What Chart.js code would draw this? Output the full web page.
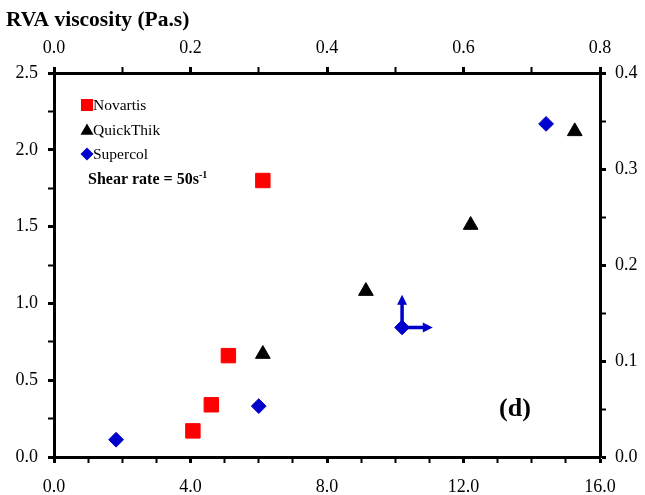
<!DOCTYPE html>
<html>
<head>
<meta charset="utf-8">
<script src="https://cdn.jsdelivr.net/npm/chart.js@4.4.0/dist/chart.umd.min.js"></script>
<style>
    html, body { margin: 0; padding: 0; background: #fff; }
</style>
</head>
<body>
<canvas id="viscChart" width="645" height="495"></canvas>
<script>
// bottom axis (0-16) / left axis (0-2.5)
const novartisX = [4.07, 4.61, 5.11, 6.12];
const novartisY = [0.17, 0.34, 0.66, 1.80];
const quickThikX = [6.12, 9.14, 12.21, 15.26];
const quickThikY = [0.67, 1.08, 1.51, 2.12];

// Supercol is read on the top (RVA viscosity) and right axes
const supercolX = [0.091, 0.300, 0.721];
const supercolY = [0.018, 0.053, 0.347];

// marker with arrows showing which axes Supercol uses
const arrowX = [0.51];
const arrowY = [0.135];
const arrowUpTo = 0.169;
const arrowRightTo = 0.555;

const legendLabels = ["Novartis", "QuickThik", "Supercol"];
const topTitle = "RVA viscosity (Pa.s)";
const panelLabel = "(d)";

const SERIF = "'Liberation Serif', 'Times New Roman', serif";
const BLUE = "#0000cc";

function toPoints(xs, ys) {
    return xs.map((x, i) => ({ x: x, y: ys[i] }));
}

function shape(ctx, style, x, y, size, color) {
    ctx.save();
    ctx.fillStyle = color;
    ctx.beginPath();
    if (style === "rect") {
        ctx.rect(x - size / 2, y - size / 2, size, size);
    } else if (style === "triangle") {
        const r = size / Math.sqrt(3);
        ctx.moveTo(x, y - r);
        ctx.lineTo(x + size / 2, y + r / 2);
        ctx.lineTo(x - size / 2, y + r / 2);
        ctx.closePath();
    } else {
        ctx.moveTo(x, y - size / 2);
        ctx.lineTo(x + size / 2, y);
        ctx.lineTo(x, y + size / 2);
        ctx.lineTo(x - size / 2, y);
        ctx.closePath();
    }
    ctx.fill();
    ctx.restore();
}

const arrowPlugin = {
    id: "arrows",
    beforeDatasetsDraw(chart) {
        const ctx = chart.ctx;
        const sx = chart.scales.x2, sy = chart.scales.y2;
        const px = sx.getPixelForValue(arrowX[0]);
        const py = sy.getPixelForValue(arrowY[0]);
        const upY = sy.getPixelForValue(arrowUpTo);
        const rightX = sx.getPixelForValue(arrowRightTo);
        ctx.save();
        ctx.strokeStyle = BLUE;
        ctx.fillStyle = BLUE;
        ctx.lineWidth = 3.5;
        ctx.beginPath();
        ctx.moveTo(px, py);
        ctx.lineTo(px, upY + 8);
        ctx.moveTo(px, py);
        ctx.lineTo(rightX - 8, py);
        ctx.stroke();
        ctx.beginPath();
        ctx.moveTo(px, upY);
        ctx.lineTo(px + 5, upY + 10);
        ctx.lineTo(px - 5, upY + 10);
        ctx.closePath();
        ctx.moveTo(rightX, py);
        ctx.lineTo(rightX - 10, py - 5);
        ctx.lineTo(rightX - 10, py + 5);
        ctx.closePath();
        ctx.fill();
        ctx.restore();
    }
};

const textPlugin = {
    id: "texts",
    afterDraw(chart) {
        const ctx = chart.ctx;
        ctx.save();
        ctx.fillStyle = "#000";
        ctx.textBaseline = "middle";
        ctx.textAlign = "left";

        ctx.font = "bold 21.5px " + SERIF;
        ctx.fillText(topTitle, 6, 20);

        // legend
        shape(ctx, "rect", 87, 105, 12, "#ff0000");
        shape(ctx, "triangle", 87, 131, 13, "#000");
        shape(ctx, "diamond", 87, 154, 13, BLUE);
        ctx.fillStyle = "#000";
        ctx.font = "15.5px " + SERIF;
        ctx.fillText(legendLabels[0], 93, 106);
        ctx.fillText(legendLabels[1], 93, 131);
        ctx.fillText(legendLabels[2], 93, 155);

        ctx.font = "bold 16px " + SERIF;
        const base = "Shear rate = 50s";
        ctx.fillText(base, 88, 180);
        const w = ctx.measureText(base).width;
        ctx.font = "bold 10px " + SERIF;
        ctx.fillText("-1", 88 + w, 175);

        ctx.font = "bold 26px " + SERIF;
        ctx.textAlign = "center";
        ctx.fillText(panelLabel, 515, 409);
        ctx.restore();
    }
};

function axisOptions(position, min, max, step, isMajor, labelPad, fixSize) {
    return {
        type: "linear",
        position: position,
        min: min,
        max: max,
        border: { display: true, color: "#000", width: 3 },
        grid: {
            display: true,
            drawOnChartArea: false,
            drawTicks: true,
            tickLength: 6,
            tickColor: "#000",
            tickWidth: c => (c.tick && isMajor(c.tick.value) ? 3 : 2)
        },
        ticks: {
            stepSize: step,
            autoSkip: false,
            maxRotation: 0,
            padding: labelPad,
            color: "#000",
            font: { family: SERIF, size: 18 },
            callback: v => (isMajor(v) ? v.toFixed(1) : "")
        },
        afterFit: fixSize
    };
}

const ctxVisc = document.getElementById("viscChart").getContext("2d");

new Chart(ctxVisc, {
    type: "scatter",
    data: {
        datasets: [
            {
                label: legendLabels[0],
                data: toPoints(novartisX, novartisY),
                pointStyle: "rect",
                pointRadius: 10.2,
                backgroundColor: "#ff0000",
                borderColor: "#ff0000",
                borderWidth: 1,
                xAxisID: "x",
                yAxisID: "y"
            },
            {
                label: legendLabels[1],
                data: toPoints(quickThikX, quickThikY),
                pointStyle: "triangle",
                pointRadius: 8.5,
                backgroundColor: "#000",
                borderColor: "#000",
                borderWidth: 1,
                xAxisID: "x",
                yAxisID: "y"
            },
            {
                label: legendLabels[2],
                data: toPoints(supercolX, supercolY),
                pointStyle: "rectRot",
                pointRadius: 7.4,
                backgroundColor: BLUE,
                borderColor: BLUE,
                borderWidth: 1,
                xAxisID: "x2",
                yAxisID: "y2"
            },
            {
                label: "axis marker",
                data: toPoints(arrowX, arrowY),
                pointStyle: "rectRot",
                pointRadius: 7.4,
                backgroundColor: BLUE,
                borderColor: BLUE,
                borderWidth: 1,
                xAxisID: "x2",
                yAxisID: "y2"
            }
        ]
    },
    options: {
        responsive: false,
        animation: false,
        layout: { padding: 0 },
        plugins: {
            legend: { display: false },
            tooltip: { enabled: false },
            title: { display: false }
        },
        scales: {
            x: axisOptions("bottom", 0, 16, 1, v => Math.round(v) % 4 === 0, 13, s => { s.height = 38; }),
            x2: axisOptions("top", 0, 0.8, 0.1, v => Math.round(v * 10) % 2 === 0, 8, s => { s.height = 73; }),
            y: axisOptions("left", 0, 2.5, 0.25, v => Math.round(v * 100) % 50 === 0, 10, s => { s.width = 54; }),
            y2: axisOptions("right", 0, 0.4, 0.05, v => Math.round(v * 100) % 10 === 0, 9, s => { s.width = 45; })
        }
    },
    plugins: [arrowPlugin, textPlugin]
});
</script>
</body>
</html>
